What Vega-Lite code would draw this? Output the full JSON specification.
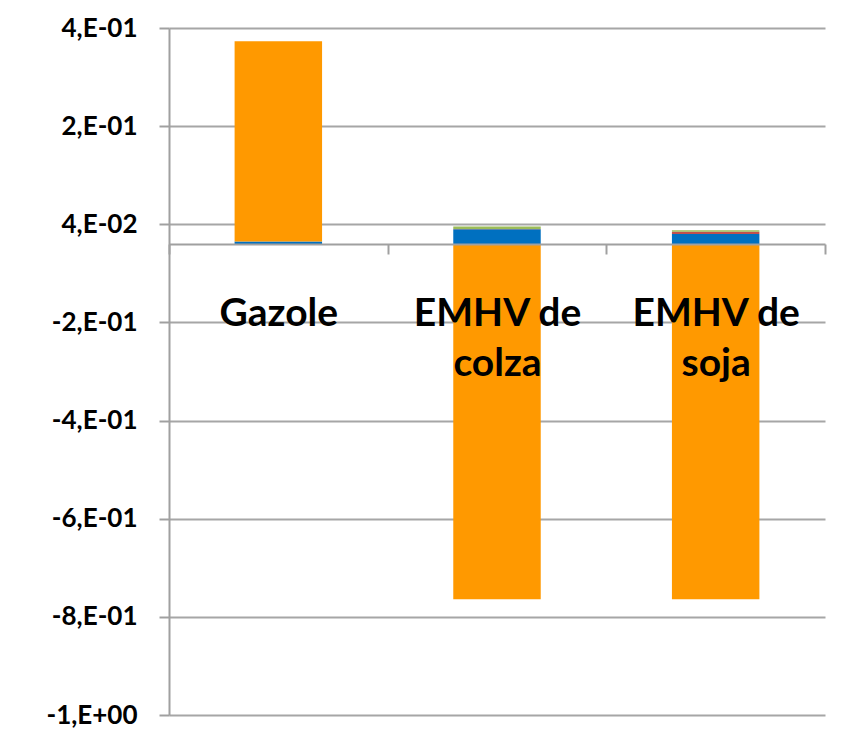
{
  "$schema": "https://vega.github.io/schema/vega-lite/v6.json",
  "autosize": "none",
  "width": 656,
  "height": 687,
  "padding": {"left": 169, "top": 28, "right": 18, "bottom": 29},
  "background": "white",
  "data": {
    "values": [
      {"cat": "Gazole", "serie": "S1", "ord": 1, "value": 0.005},
      {"cat": "Gazole", "serie": "S4", "ord": 4, "value": 0.408},
      {"cat": "EMHV de colza", "serie": "S1", "ord": 1, "value": 0.030},
      {"cat": "EMHV de colza", "serie": "S2", "ord": 2, "value": 0.0005},
      {"cat": "EMHV de colza", "serie": "S3", "ord": 3, "value": 0.005},
      {"cat": "EMHV de colza", "serie": "S4", "ord": 4, "value": -0.724},
      {"cat": "EMHV de soja", "serie": "S1", "ord": 1, "value": 0.020},
      {"cat": "EMHV de soja", "serie": "S2", "ord": 2, "value": 0.005},
      {"cat": "EMHV de soja", "serie": "S3", "ord": 3, "value": 0.003},
      {"cat": "EMHV de soja", "serie": "S4", "ord": 4, "value": -0.724}
    ]
  },
  "mark": {"type": "bar", "width": {"band": 0.4}},
  "encoding": {
    "x": {
      "field": "cat",
      "type": "nominal",
      "sort": ["Gazole", "EMHV de colza", "EMHV de soja"],
      "scale": {"paddingInner": 0, "paddingOuter": 0},
      "axis": {
        "title": null,
        "zindex": 1,
        "offset": -471,
        "domainColor": "#a0a0a0",
        "domainWidth": 2,
        "tickColor": "#a0a0a0",
        "tickWidth": 2,
        "tickSize": 10,
        "tickBand": "extent",
        "labelAngle": 0,
        "labelFont": "Lato",
        "labelFontWeight": "bold",
        "labelFontSize": 39,
        "labelColor": "#000000",
        "labelBaseline": "alphabetic",
        "labelPadding": 71,
        "labelLineHeight": 50,
        "labelLimit": 0,
        "labelOverlap": false,
        "labelExpr": "datum.label == 'Gazole' ? 'Gazole' : split(replace(datum.label, 'EMHV de ', 'EMHV de|'), '|')"
      }
    },
    "y": {
      "field": "value",
      "type": "quantitative",
      "stack": "zero",
      "scale": {"domain": [-0.96, 0.44], "nice": false, "zero": false},
      "axis": {
        "title": null,
        "values": [-0.96, -0.76, -0.56, -0.36, -0.16, 0.04, 0.24, 0.44],
        "labelExpr": "['-1,E+00','-8,E-01','-6,E-01','-4,E-01','-2,E-01','4,E-02','2,E-01','4,E-01'][round((datum.value+0.96)/0.2)]",
        "labelFont": "Lato",
        "labelFontWeight": "bold",
        "labelFontSize": 26,
        "labelColor": "#000000",
        "labelPadding": 22,
        "domainColor": "#a0a0a0",
        "domainWidth": 2,
        "tickColor": "#a0a0a0",
        "tickWidth": 2,
        "tickSize": 10,
        "grid": true,
        "gridColor": "#a6a6a6",
        "gridWidth": 2
      }
    },
    "color": {
      "field": "serie",
      "type": "nominal",
      "scale": {"domain": ["S1", "S2", "S3", "S4"], "range": ["#0070C0", "#C0504D", "#9BBB59", "#FF9900"]},
      "legend": null
    },
    "order": {"field": "ord", "type": "quantitative"}
  },
  "config": {"view": {"stroke": null}}
}
